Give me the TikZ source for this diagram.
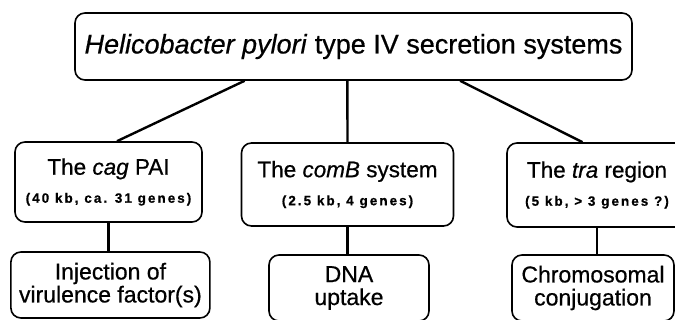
\documentclass[tikz,border=0pt]{standalone}
\usepackage{fontspec}
\setmainfont{Liberation Sans}[FakeBold=0.6]
\usetikzlibrary{calc}
% small spaced-out bold caption under each system name
\newcommand{\sizeline}[1]{{\fontsize{13.5}{28}\selectfont\addfontfeature{LetterSpace=15}\bfseries #1}}
\begin{document}
\begin{tikzpicture}[x=1pt,y=-1pt,
  box/.style={draw=black, line width=1.6pt, rounded corners=10pt, align=center, inner sep=0pt},
  sysbox/.style={box, font=\fontsize{22.5}{28}\selectfont},
  rolebox/.style={box, font=\fontsize{23}{23}\selectfont},
  link/.style={line width=2.4pt}]
  \useasboundingbox[fill=white] (0,0) rectangle (675,320);

  % root
  \node[box, minimum width=557, minimum height=67, font=\fontsize{27}{30}\selectfont]
    (top) at (353.5,46.5) {\textit{Helicobacter pylori} type IV secretion systems};

  % the three systems
  \node[sysbox, minimum width=187, minimum height=80] (cag) at (108.5,182)
    {The \textit{cag} PAI\\\sizeline{(40 kb, ca. 31 genes)}};
  \node[sysbox, minimum width=212, minimum height=83] (comb) at (347.5,184.5)
    {The \textit{comB} system\\\sizeline{(2.5 kb, 4 genes)}};
  \node[sysbox, minimum width=180, minimum height=84] (tra) at (597,185)
    {The \textit{tra} region\\\sizeline{(5 kb, > 3 genes ?)}};

  % what each system does
  \node[rolebox, minimum width=199, minimum height=66] (inj) at (110.4,285)
    {Injection of\\virulence factor(s)};
  \node[rolebox, minimum width=160, minimum height=66] (dna) at (349,288)
    {DNA\\uptake};
  \node[rolebox, minimum width=162, minimum height=66] (conj) at (593,288)
    {Chromosomal\\conjugation};

  % branches from the root
  \draw[link] ($(top.south west)!0.305!(top.south east)$) -- ($(cag.north west)!0.545!(cag.north east)$);
  \draw[link] ($(top.south west)!0.489!(top.south east)$) -- (comb.north);
  \draw[link] ($(top.south west)!0.691!(top.south east)$) -- ($(tra.north west)!0.42!(tra.north east)$);

  % system to role
  \draw[link] (cag.south) -- (cag.south |- inj.north);
  \draw[link] (comb.south) -- (comb.south |- dna.north);
  \draw[link] (tra.south) -- (tra.south |- conj.north);
\end{tikzpicture}
\end{document}
